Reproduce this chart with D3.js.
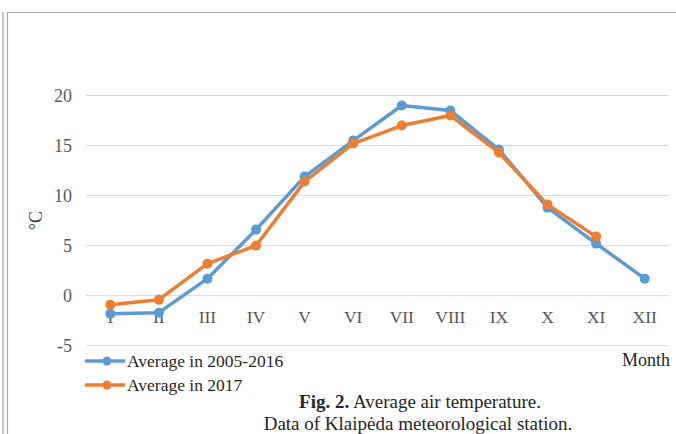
<!DOCTYPE html>
<html>
<head>
<meta charset="utf-8">
<script src="https://cdn.jsdelivr.net/npm/d3@7"></script>
<style>
  html, body { margin: 0; padding: 0; background: #fff; }
  svg { display: block; font-family: "Liberation Serif", "Times New Roman", serif; }
</style>
</head>
<body>
<svg id="chart" width="676" height="434"></svg>
<script>
const months = ['I', 'II', 'III', 'IV', 'V', 'VI', 'VII', 'VIII', 'IX', 'X', 'XI', 'XII'];
const avg2005_2016 = [-1.8, -1.7, 1.7, 6.6, 11.9, 15.5, 19.0, 18.5, 14.6, 8.8, 5.2, 1.7];
const avg2017 = [-0.9, -0.4, 3.2, 5.0, 11.4, 15.2, 17.0, 18.0, 14.3, 9.1, 5.9, null];
const yTicks = [-5, 0, 5, 10, 15, 20];

const series = [
  { name: 'Average in 2005-2016', values: avg2005_2016, color: '#5B9BD5' },
  { name: 'Average in 2017', values: avg2017, color: '#ED7D31' },
];

const svg = d3.select('#chart');

// outer frame of the figure
svg.append('path')
  .attr('d', 'M3,434 V12 M7.5,434 V12.5 H676')
  .attr('fill', 'none')
  .attr('stroke', '#a6a6a6')
  .attr('stroke-width', 1.2);

const x = d3.scaleBand().domain(months).range([86, 669]);
const y = d3.scaleLinear().domain([-5, 20]).range([345.7, 95.5]);

// gridlines
svg.append('g')
  .selectAll('line')
  .data(yTicks)
  .enter()
  .append('line')
  .attr('x1', 86)
  .attr('x2', 669)
  .attr('y1', d => y(d))
  .attr('y2', d => y(d))
  .attr('stroke', '#d9d9d9')
  .attr('stroke-width', 1);

// y tick labels
svg.append('g')
  .selectAll('text')
  .data(yTicks)
  .enter()
  .append('text')
  .attr('x', 72)
  .attr('y', d => y(d))
  .attr('dy', '0.35em')
  .attr('text-anchor', 'end')
  .attr('font-size', 18)
  .attr('fill', '#595959')
  .text(d => d);

// month labels (sit just below zero line)
svg.append('g')
  .selectAll('text')
  .data(months)
  .enter()
  .append('text')
  .attr('x', d => x(d) + x.bandwidth() / 2)
  .attr('y', y(0) + 27)
  .attr('text-anchor', 'middle')
  .attr('font-size', 17.5)
  .attr('fill', '#595959')
  .text(d => d);

// y axis title
svg.append('text')
  .attr('transform', `translate(42,${y(7.5)}) rotate(-90)`)
  .attr('text-anchor', 'middle')
  .attr('font-size', 18)
  .attr('fill', '#404040')
  .text('°C');

// x axis title
svg.append('text')
  .attr('x', 670)
  .attr('y', 366)
  .attr('text-anchor', 'end')
  .attr('font-size', 18)
  .attr('fill', '#262626')
  .text('Month');

const line = d3.line()
  .defined(d => d.v != null)
  .x(d => x(d.m) + x.bandwidth() / 2)
  .y(d => y(d.v));

for (const s of series) {
  const pts = months.map((m, i) => ({ m, v: s.values[i] }));
  svg.append('path')
    .datum(pts)
    .attr('fill', 'none')
    .attr('stroke', s.color)
    .attr('stroke-width', 3.5)
    .attr('stroke-linejoin', 'round')
    .attr('d', line);
  svg.append('g')
    .selectAll('circle')
    .data(pts.filter(d => d.v != null))
    .enter()
    .append('circle')
    .attr('cx', d => x(d.m) + x.bandwidth() / 2)
    .attr('cy', d => y(d.v))
    .attr('r', 5)
    .attr('fill', s.color);
}

// legend
const legend = svg.append('g');
series.forEach((s, i) => {
  const ly = 361 + i * 24;
  legend.append('line')
    .attr('x1', 85).attr('x2', 125)
    .attr('y1', ly).attr('y2', ly)
    .attr('stroke', s.color)
    .attr('stroke-width', 3.5);
  legend.append('circle')
    .attr('cx', 107).attr('cy', ly).attr('r', 4.5)
    .attr('fill', s.color);
  legend.append('text')
    .attr('x', 127)
    .attr('y', ly)
    .attr('dy', '0.35em')
    .attr('font-size', 17.5)
    .attr('fill', '#262626')
    .text(s.name);
});

// caption
const cap = svg.append('text')
  .attr('x', 420)
  .attr('y', 408)
  .attr('text-anchor', 'middle')
  .attr('font-size', 19)
  .attr('fill', '#262626');
cap.append('tspan').attr('font-weight', 'bold').text('Fig. 2.');
cap.append('tspan').text(' Average air temperature.');

svg.append('text')
  .attr('x', 418)
  .attr('y', 430)
  .attr('text-anchor', 'middle')
  .attr('font-size', 19)
  .attr('fill', '#262626')
  .text('Data of Klaipėda meteorological station.');
</script>
</body>
</html>
